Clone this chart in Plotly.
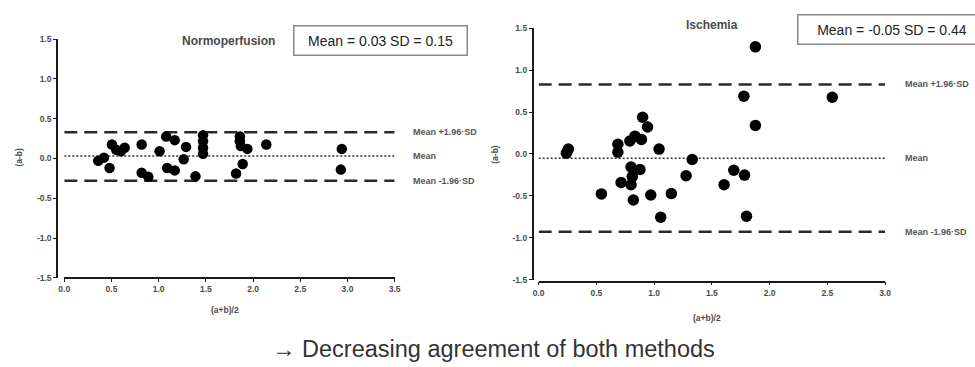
import plotly.graph_objects as go

W, H = 975, 367

# ---- data ----
normo_x = [0.36, 0.42, 0.48, 0.505, 0.55, 0.60, 0.64, 0.82, 0.82, 0.89, 1.01, 1.08, 1.09,
           1.17, 1.17, 1.29, 1.265, 1.39, 1.47, 1.47, 1.47, 1.47, 1.82, 1.89, 1.86, 1.86,
           1.87, 1.94, 2.14, 2.94, 2.93]
normo_y = [-0.03, 0.01, -0.12, 0.175, 0.11, 0.09, 0.135, 0.175, -0.18, -0.23, 0.09, 0.275, -0.12,
           0.23, -0.15, 0.145, -0.01, -0.225, 0.29, 0.215, 0.135, 0.06, -0.19, -0.07, 0.275, 0.215,
           0.155, 0.12, 0.175, 0.12, -0.14]
normo_limits = [0.33, 0.03, -0.28]

isch_x = [0.24, 0.257, 0.543, 0.686, 0.686, 0.714, 0.79, 0.834, 0.89, 0.90, 0.943, 0.80, 0.877,
          0.811, 0.80, 0.82, 0.971, 1.043, 1.057, 1.149, 1.277, 1.33, 1.606, 1.69, 1.783, 1.777,
          1.80, 1.877, 1.877, 2.543]
isch_y = [0.01, 0.058, -0.477, 0.116, 0.02, -0.34, 0.155, 0.213, 0.174, 0.438, 0.322, -0.155, -0.186,
          -0.27, -0.368, -0.55, -0.49, 0.058, -0.756, -0.473, -0.26, -0.066, -0.368, -0.194, -0.252, 0.69,
          -0.744, 1.279, 0.341, 0.678]
isch_limits = [0.83, -0.05, -0.93]

limit_labels = ["Mean +1.96\u00b7SD", "Mean", "Mean -1.96\u00b7SD"]
y_ticks = [-1.5, -1.0, -0.5, 0.0, 0.5, 1.0, 1.5]
normo_xticks = [0.0, 0.5, 1.0, 1.5, 2.0, 2.5, 3.0, 3.5]
isch_xticks = [0.0, 0.5, 1.0, 1.5, 2.0, 2.5, 3.0]


def fx(p):
    return p / W


def fy(p):
    return 1 - p / H


FONT = "Liberation Sans, Arial, sans-serif"
tickfont = dict(family=FONT, size=8.5, color="#4a4a4a", weight="bold")

fig = go.Figure()

line_styles = [dict(color="#2a2a2a", width=2.5, dash="13px,7px"),
               dict(color="#333", width=1.5, dash="2px,2px"),
               dict(color="#2a2a2a", width=2.5, dash="13px,7px")]

# left panel
for val, st in zip(normo_limits, line_styles):
    fig.add_trace(go.Scatter(x=[0, 3.5], y=[val, val], mode="lines", line=st,
                             xaxis="x", yaxis="y", hoverinfo="skip", showlegend=False))
fig.add_trace(go.Scatter(x=normo_x, y=normo_y, mode="markers",
                         marker=dict(color="black", size=10.5), xaxis="x", yaxis="y", showlegend=False))

# right panel
for val, st in zip(isch_limits, line_styles):
    fig.add_trace(go.Scatter(x=[0, 3.0], y=[val, val], mode="lines", line=st,
                             xaxis="x2", yaxis="y2", hoverinfo="skip", showlegend=False))
fig.add_trace(go.Scatter(x=isch_x, y=isch_y, mode="markers",
                         marker=dict(color="black", size=11.5), xaxis="x2", yaxis="y2", showlegend=False))

axis_common = dict(showgrid=False, zeroline=False, showline=True, linecolor="#1a1a1a",
                   ticks="outside", ticklen=3, tickcolor="#1a1a1a", tickfont=tickfont)

fig.update_layout(
    width=W, height=H, margin=dict(l=0, r=0, t=0, b=0),
    paper_bgcolor="white", plot_bgcolor="white",
    xaxis=dict(domain=[fx(59), fx(393.5)], range=[0, 3.5], tickvals=normo_xticks,
               ticktext=[f"{v:.1f}" for v in normo_xticks], anchor="free", position=fy(280.5),
               linewidth=2.2, **axis_common),
    yaxis=dict(domain=[fy(280.5), fy(35)], range=[-1.5, 1.5], tickvals=y_ticks,
               ticktext=[f"{v:.1f}" for v in y_ticks], anchor="free", position=fx(52),
               linewidth=2.2, **axis_common),
    xaxis2=dict(domain=[fx(539.3), fx(890)], range=[0, 3.0], tickvals=isch_xticks,
                ticktext=[f"{v:.1f}" for v in isch_xticks], anchor="free", position=fy(284.3),
                linewidth=1.8, **axis_common),
    yaxis2=dict(domain=[fy(282.3), fy(24)], range=[-1.5, 1.5], tickvals=y_ticks,
                ticktext=[f"{v:.1f}" for v in y_ticks], anchor="free", position=fx(533.3),
                linewidth=1.8, **axis_common),
)

ann = []
lab_font = dict(family=FONT, size=9, color="#555", weight="bold")
for val, lab in zip(normo_limits, limit_labels):
    ann.append(dict(x=fx(410), xref="paper", y=val, yref="y", text=lab, showarrow=False,
                    xanchor="left", yanchor="middle", font=lab_font))
for val, lab in zip(isch_limits, limit_labels):
    ann.append(dict(x=fx(908), xref="paper", y=val, yref="y2", text=lab, showarrow=False,
                    xanchor="left", yanchor="middle", font=lab_font))

title_font = dict(family=FONT, size=12, color="#4a4a4a", weight="bold")
ann.append(dict(x=fx(225), y=fy(37), xref="paper", yref="paper", text="Normoperfusion",
                showarrow=False, xanchor="center", yanchor="middle", font=title_font))
ann.append(dict(x=fx(715), y=fy(20.5), xref="paper", yref="paper", text="Ischemia",
                showarrow=False, xanchor="center", yanchor="middle", font=title_font))

box_font = dict(family=FONT, size=14, color="#222")
ann.append(dict(x=fx(379.5), y=fy(36.7), xref="paper", yref="paper",
                text="Mean = 0.03 SD = 0.15", showarrow=False, xanchor="center", yanchor="middle",
                font=box_font, bordercolor="#888", borderwidth=1.5, borderpad=6, width=160,
                bgcolor="white"))
ann.append(dict(x=fx(801), y=fy(25.3), xref="paper", yref="paper",
                text="Mean = -0.05 SD = 0.44", showarrow=False, xanchor="left", yanchor="middle",
                font=box_font, bordercolor="#888", borderwidth=1.5, borderpad=6, width=175,
                bgcolor="white"))

axt_font = dict(family=FONT, size=8.5, color="#4a4a4a", weight="bold")
ann.append(dict(x=fx(13), y=fy(156), xref="paper", yref="paper", text="(a-b)", textangle=-90,
                showarrow=False, xanchor="center", yanchor="middle", font=axt_font))
ann.append(dict(x=fx(495), y=fy(153), xref="paper", yref="paper", text="(a-b)", textangle=-90,
                showarrow=False, xanchor="center", yanchor="middle", font=axt_font))
ann.append(dict(x=fx(222), y=fy(314), xref="paper", yref="paper", text="(a+b)/2",
                showarrow=False, xanchor="center", yanchor="middle", font=axt_font))
ann.append(dict(x=fx(710), y=fy(322), xref="paper", yref="paper", text="(a+b)/2",
                showarrow=False, xanchor="center", yanchor="middle", font=axt_font))

ann.append(dict(x=fx(494), y=fy(354), xref="paper", yref="paper",
                text="\u2192 Decreasing agreement of both methods", showarrow=False,
                xanchor="center", yanchor="middle",
                font=dict(family=FONT, size=23.5, color="#333")))

fig.update_layout(annotations=ann)

fig.write_html("out.html")
